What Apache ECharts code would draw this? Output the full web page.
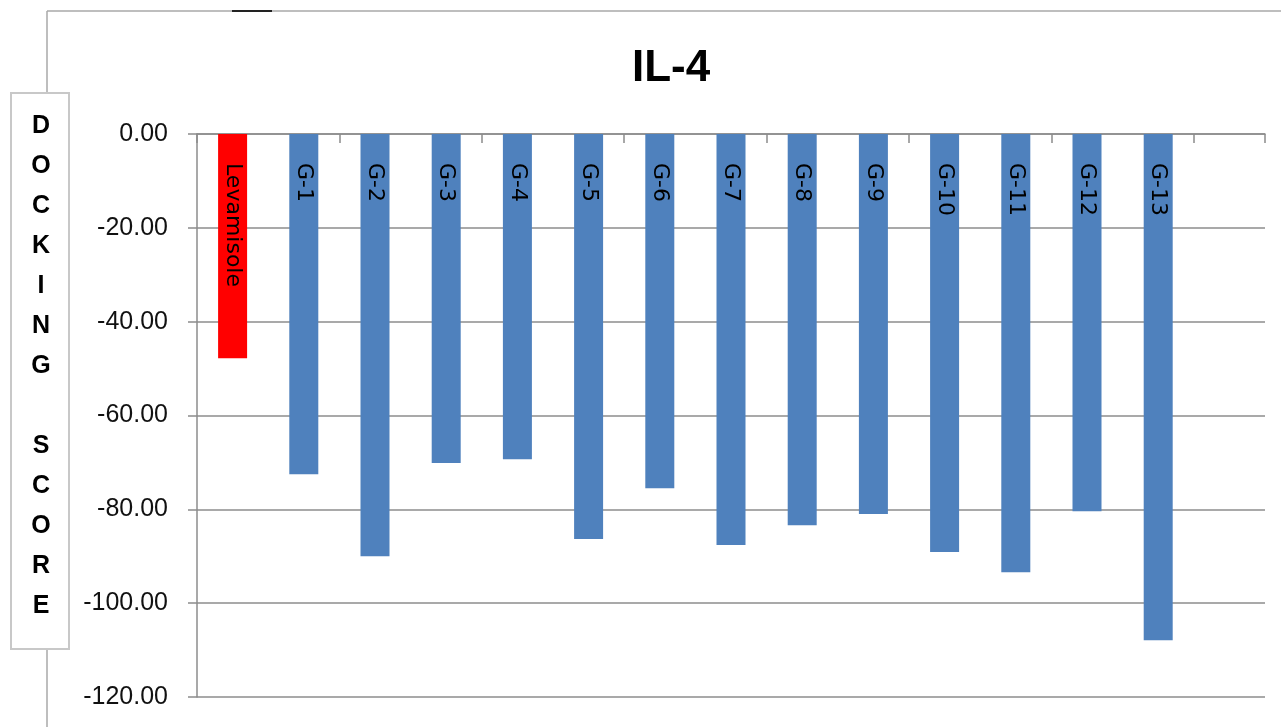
<!DOCTYPE html>
<html>
<head>
<meta charset="utf-8">
<title>IL-4 docking scores</title>
<script src="https://cdn.jsdelivr.net/npm/echarts@6/dist/echarts.min.js"></script>
<style>
  html, body { margin: 0; padding: 0; background: #fff; }
  #chart { width: 1281px; height: 727px; }
</style>
</head>
<body>
<div id="chart"></div>
<script>
// Compounds docked against IL-4 (reference drug first)
const compounds = ['Levamisole', 'G-1', 'G-2', 'G-3', 'G-4', 'G-5', 'G-6', 'G-7',
                   'G-8', 'G-9', 'G-10', 'G-11', 'G-12', 'G-13'];
const dockingScores = [-47.8, -72.5, -90.0, -70.1, -69.3, -86.3, -75.5, -87.6,
                       -83.4, -81.0, -89.1, -93.4, -80.4, -107.9];
const referenceDrug = 'Levamisole';
// one empty slot after the last compound, as on the axis
const axisCategories = compounds.concat(['']);
const yTitleLetters = ['D', 'O', 'C', 'K', 'I', 'N', 'G', '', 'S', 'C', 'O', 'R', 'E'];

const BLUE = '#4F81BD';
const RED = '#FF0000';
const GRID_GRAY = '#8c8c8c';

const chart = echarts.init(document.getElementById('chart'), null, { renderer: 'canvas' });

const option = {
  backgroundColor: '#ffffff',
  animation: false,
  title: {
    text: 'IL-4',
    left: 632,
    top: 47,
    padding: 0,
    textStyle: {
      fontFamily: '"Liberation Sans", Arial, sans-serif',
      fontWeight: 'bold',
      fontSize: 44,
      color: '#000'
    }
  },
  grid: { left: 197, top: 134, right: 16, bottom: 30, containLabel: false },
  xAxis: {
    type: 'category',
    data: axisCategories,
    boundaryGap: true,
    axisLine: { show: true, onZero: true, lineStyle: { color: GRID_GRAY, width: 1.5 } },
    axisTick: { show: true, length: 9, alignWithLabel: false, lineStyle: { color: GRID_GRAY, width: 1.5 } },
    axisLabel: { show: false },
    splitLine: { show: false }
  },
  yAxis: {
    type: 'value',
    min: -120,
    max: 0,
    interval: 20,
    axisLine: { show: true, lineStyle: { color: GRID_GRAY, width: 1.5 } },
    axisTick: { show: true, length: 9, lineStyle: { color: GRID_GRAY, width: 1.5 } },
    axisLabel: {
      margin: 29,
      formatter: v => v.toFixed(2),
      fontFamily: '"Liberation Sans", Arial, sans-serif',
      fontSize: 25,
      color: '#111'
    },
    splitLine: { show: true, lineStyle: { color: GRID_GRAY, width: 1.5 } }
  },
  series: [{
    type: 'bar',
    barWidth: 29,
    data: compounds.map((name, i) => ({
      name: name,
      value: dockingScores[i],
      itemStyle: { color: name === referenceDrug ? RED : BLUE }
    })),
    label: {
      show: true,
      position: 'insideTop',
      distance: 29,
      rotate: -90,
      align: 'left',
      verticalAlign: 'middle',
      formatter: '{b}',
      fontFamily: '"DejaVu Sans", sans-serif',
      fontSize: 22,
      color: '#000'
    }
  }],
  graphic: [
    // outer frame edges
    { type: 'line', shape: { x1: 47, y1: 11, x2: 1281, y2: 11 }, style: { stroke: '#a8a8a8', lineWidth: 1.5 }, silent: true },
    { type: 'line', shape: { x1: 47, y1: 11, x2: 47, y2: 93 }, style: { stroke: '#a8a8a8', lineWidth: 1.5 }, silent: true },
    { type: 'line', shape: { x1: 47, y1: 649, x2: 47, y2: 727 }, style: { stroke: '#a8a8a8', lineWidth: 1.5 }, silent: true },
    { type: 'line', shape: { x1: 232, y1: 11, x2: 272, y2: 11 }, style: { stroke: '#222', lineWidth: 2 }, silent: true },
    // boxed vertical axis title
    {
      type: 'rect',
      shape: { x: 11, y: 93, width: 58, height: 556 },
      style: { fill: '#fff', stroke: '#c8c8c8', lineWidth: 2 },
      silent: true
    },
    {
      type: 'text',
      x: 41,
      y: 106,
      style: {
        text: yTitleLetters.join('\n'),
        textAlign: 'center',
        textVerticalAlign: 'top',
        lineHeight: 40,
        font: 'bold 25px "Liberation Sans", Arial, sans-serif',
        fill: '#000'
      },
      silent: true
    }
  ]
};

chart.setOption(option);
</script>
</body>
</html>
